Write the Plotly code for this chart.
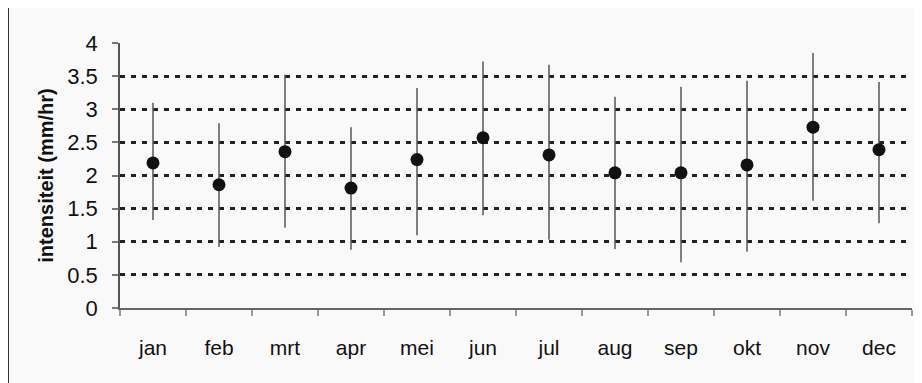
import plotly.graph_objects as go

months = ["jan", "feb", "mrt", "apr", "mei", "jun", "jul", "aug", "sep", "okt", "nov", "dec"]
mean = [2.19, 1.86, 2.36, 1.81, 2.24, 2.57, 2.31, 2.04, 2.04, 2.16, 2.73, 2.39]
upper = [3.10, 2.79, 3.52, 2.73, 3.32, 3.72, 3.67, 3.19, 3.34, 3.43, 3.85, 3.41]
lower = [1.33, 0.92, 1.21, 0.88, 1.10, 1.40, 1.03, 0.89, 0.69, 0.85, 1.62, 1.28]
yticks = [0, 0.5, 1, 1.5, 2, 2.5, 3, 3.5, 4]
ytick_text = ["0", "0.5", "1", "1.5", "2", "2.5", "3", "3.5", "4"]

err_plus = [u - m for u, m in zip(upper, mean)]
err_minus = [m - l for m, l in zip(mean, lower)]

fig = go.Figure()
fig.add_trace(go.Scatter(
    x=months, y=mean, mode="markers",
    marker=dict(color="#111111", size=13),
    error_y=dict(type="data", symmetric=False, array=err_plus, arrayminus=err_minus,
                 color="#555555", thickness=1.5, width=0),
    showlegend=False,
))

fig.update_layout(
    width=914, height=375,
    margin=dict(l=112, r=10, t=35, b=75),
    paper_bgcolor="#f9f9f9", plot_bgcolor="#f9f9f9",
    font=dict(family="Liberation Sans, Arial, sans-serif", color="#111111"),
)
fig.update_xaxes(
    type="category", range=[-0.5, 11.5],
    showline=True, linecolor="#666666", linewidth=1.5,
    ticks="outside", tickson="boundaries", ticklen=6, tickcolor="#999999", tickwidth=1.5,
    showgrid=False, zeroline=False,
    tickfont=dict(size=21, color="#111111"),
    ticklabelstandoff=20,
)
fig.update_yaxes(
    range=[0, 4], tickvals=yticks, ticktext=ytick_text,
    showline=True, linecolor="#555555", linewidth=1.5,
    ticks="outside", ticklen=6, tickcolor="#777777", tickwidth=1.5,
    showgrid=True, gridcolor="#222222", gridwidth=2.5, griddash="5px,6px",
    zeroline=False,
    tickfont=dict(size=22, color="#111111"),
    ticklabelstandoff=10,
    title=dict(text="<b>intensiteit (mm/hr)</b>", font=dict(size=20, color="#111111"), standoff=8),
)
fig.add_shape(type="line", xref="paper", yref="paper",
              x0=-0.1414, x1=-0.1414, y0=-0.3, y1=1.2,
              line=dict(color="#333333", width=2))

fig.write_html("out.html")
